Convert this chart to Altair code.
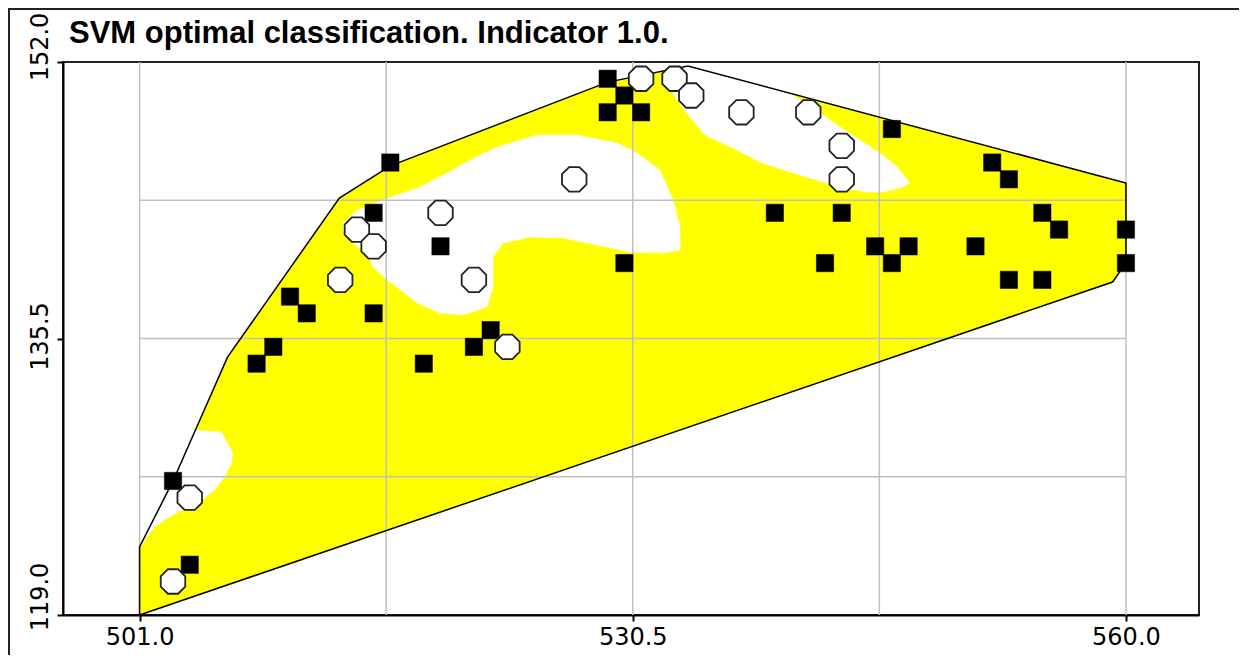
import altair as alt
import pandas as pd

TITLE = "SVM optimal classification. Indicator 1.0."

# ---- class A: black squares ----
sq_x = [503, 504, 508, 509, 510, 511, 515, 515, 516, 518, 519, 521, 522,
        529, 529, 530, 531, 530, 539, 542, 543, 545, 546, 547, 546, 551,
        552, 553, 553, 555, 555, 556, 560, 560]
sq_y = [127, 122, 134, 135, 138, 137, 137, 143, 146, 134, 141, 135, 136,
        151, 149, 150, 149, 140, 143, 140, 143, 141, 140, 141, 148, 141,
        146, 145, 139, 143, 139, 142, 142, 140]

# ---- class B: white octagons ----
ci_x = [503, 504, 513, 514, 515, 519, 521, 523, 527, 531, 533, 534, 537, 541, 543, 543]
ci_y = [121, 126, 139, 142, 141, 143, 139, 135, 145, 151, 151, 150, 149, 149, 147, 145]

# ---- hull of the classified domain ----
hull_x = [501.0, 501.0, 503.0, 506.26, 512.95, 516.0, 529.0, 533.8, 560.0, 560.0, 559.2, 501.0]
hull_y = [119.0, 123.06, 127.0, 134.39, 143.88, 145.8, 150.8, 151.76, 144.78, 140.0, 138.87, 119.0]

# ---- regions classified as class B (white inside the yellow hull) ----
blob1_x = [501.06, 501.30, 501.90, 502.50, 503.51, 504.71, 505.49, 506.08, 506.50,
           506.56, 505.90, 504.17, 501.60, 500.88]
blob1_y = [123.06, 123.47, 124.25, 124.67, 125.26, 125.86, 126.46, 127.23, 128.07,
           128.67, 129.92, 130.04, 127.65, 123.47]

blob2_x = [513.17, 514.01, 515.56, 517.78, 519.39, 520.77, 522.38, 524.77, 527.17,
           529.56, 530.75, 532.13, 532.91, 533.33, 533.33, 532.31, 530.34, 528.36,
           526.33, 524.36, 522.74, 522.14, 522.14, 521.78, 520.35, 518.97, 517.60,
           516.40, 515.80, 514.97, 514.61, 513.77, 513.17]
blob2_y = [142.39, 143.16, 143.76, 144.54, 145.37, 146.15, 146.92, 147.64, 147.64,
           147.16, 146.57, 145.55, 143.76, 142.15, 140.78, 140.60, 140.66, 141.08,
           141.49, 141.55, 141.20, 140.36, 138.57, 137.38, 136.90, 137.02, 137.62,
           138.57, 138.99, 139.76, 140.60, 141.20, 141.97]

blob3_x = [532.31, 532.97, 533.57, 534.16, 534.82, 536.50, 538.11, 539.91, 541.52,
           543.08, 544.51, 545.47, 546.48, 547.08, 546.30, 545.47, 544.27, 542.72,
           541.88, 540.92, 539.91, 539.13, 538.11, 532.31]
blob3_y = [151.52, 150.03, 149.14, 148.42, 147.64, 146.86, 146.03, 145.43, 144.95,
           144.48, 144.24, 144.24, 144.48, 144.78, 145.73, 146.45, 147.22, 148.24,
           148.83, 149.43, 150.15, 150.50, 151.8, 151.8]

# ---- axes ----
x_ticks = [501.0, 530.5, 560.0]
y_ticks = [119.0, 135.5, 152.0]
y_tick_labels = ["119.0", "135.5", "152.0"]
x_grid = [501.0, 515.75, 530.5, 545.25, 560.0]
y_grid = [127.25, 135.5, 143.75]
X_DOMAIN = [496.42, 564.37]
Y_DOMAIN = [119.0, 152.0]

# ---------------- build tables ----------------
hull_df = pd.DataFrame({"i": range(len(hull_x)), "x": hull_x, "y": hull_y})
blob_rows = []
for g, (bx, by) in enumerate([(blob1_x, blob1_y), (blob2_x, blob2_y), (blob3_x, blob3_y)]):
    for i, (a, b) in enumerate(zip(bx, by)):
        blob_rows.append({"g": g, "i": i, "x": a, "y": b})
blob_df = pd.DataFrame(blob_rows)
sq_df = pd.DataFrame({"x": sq_x, "y": sq_y})
ci_df = pd.DataFrame({"x": ci_x, "y": ci_y})
xg_df = pd.DataFrame({"x": x_grid})
yg_df = pd.DataFrame({"y": y_grid, "x": [x_grid[0]] * len(y_grid), "x2": [x_grid[-1]] * len(y_grid)})
lab_df = pd.DataFrame({"y": y_ticks, "t": y_tick_labels})
title_df = pd.DataFrame({"t": [TITLE]})
one_df = pd.DataFrame({"k": [0]})

xs = alt.Scale(domain=X_DOMAIN, nice=False, zero=False)
ys = alt.Scale(domain=Y_DOMAIN, nice=False, zero=False)

LABEL_FONT = "DejaVu Sans"
xaxis = alt.Axis(values=x_ticks, format=".1f", title=None, grid=False,
                 tickSize=6, tickWidth=2, tickColor="black",
                 domainColor="black", domainWidth=2,
                 labelFont=LABEL_FONT, labelFontSize=24, labelColor="black",
                 labelPadding=4, labelFlush=False, labelOverlap=False)
yaxis = alt.Axis(values=y_ticks, labels=False, title=None, grid=False,
                 tickSize=6, tickWidth=2, tickColor="black",
                 domainColor="black", domainWidth=2)

X = lambda: alt.X("x:Q", scale=xs, axis=xaxis)
Y = lambda: alt.Y("y:Q", scale=ys, axis=yaxis)

yellow = alt.Chart(hull_df).mark_line(fill="#ffff00", stroke="#ffff00", strokeWidth=0.5).encode(
    x=X(), y=Y(), order="i:Q")

white = alt.Chart(blob_df).mark_line(fill="#ffffff", stroke="#ffffff", strokeWidth=0.5).encode(
    x=X(), y=Y(), order="i:Q", detail="g:N")

vgrid = alt.Chart(xg_df).mark_rule(color="#c0c0c0", strokeWidth=1.5).encode(x=X())
hgrid = alt.Chart(yg_df).mark_rule(color="#c0c0c0", strokeWidth=1.5).encode(
    x=X(), x2="x2:Q", y=Y())

outline = alt.Chart(hull_df).mark_line(color="black", strokeWidth=1.5).encode(
    x=X(), y=Y(), order="i:Q")

squares = alt.Chart(sq_df).mark_point(shape="square", filled=True, fill="black",
                                      stroke="black", strokeWidth=0.5,
                                      size=300, opacity=1).encode(x=X(), y=Y())

OCT = "M-0.4142,-1L0.4142,-1L1,-0.4142L1,0.4142L0.4142,1L-0.4142,1L-1,0.4142L-1,-0.4142Z"
circles = alt.Chart(ci_df).mark_point(shape=OCT, filled=True, fill="white",
                                      stroke="#222222", strokeWidth=1.8,
                                      size=600, opacity=1).encode(x=X(), y=Y())

def ylabel(idx, align, dx):
    return alt.Chart(lab_df.iloc[[idx]]).mark_text(
        angle=270, align=align, baseline="alphabetic", dx=dx,
        font=LABEL_FONT, fontSize=24, color="black").encode(
        x=alt.value(-15), y=Y(), text="t:N")

ylabels = [ylabel(0, "center", 18), ylabel(1, "center", 2), ylabel(2, "center", 15)]

title = alt.Chart(title_df).mark_text(
    align="left", baseline="alphabetic", font="Liberation Sans", fontWeight="bold",
    fontSize=31, color="black").encode(x=alt.value(6), y=alt.value(-19), text="t:N")

frame_top = alt.Chart(one_df).mark_rule(color="#222222", strokeWidth=2).encode(
    x=alt.value(-55), x2=alt.value(1180), y=alt.value(-53))
frame_left = alt.Chart(one_df).mark_rule(color="#222222", strokeWidth=2).encode(
    x=alt.value(-54), y=alt.value(-54), y2=alt.value(600))

chart = alt.layer(
    yellow, white, vgrid, hgrid, outline, squares, circles, *ylabels, title,
    frame_top, frame_left
).properties(
    width=1136, height=553,
    autosize=alt.AutoSizeParams(type="none"),
    padding={"left": 55, "top": 54, "right": 40, "bottom": 40},
    background="white",
).configure_view(stroke="#222222", strokeWidth=2)

chart.save("out.html", embed_options={"renderer": "svg", "actions": False})
